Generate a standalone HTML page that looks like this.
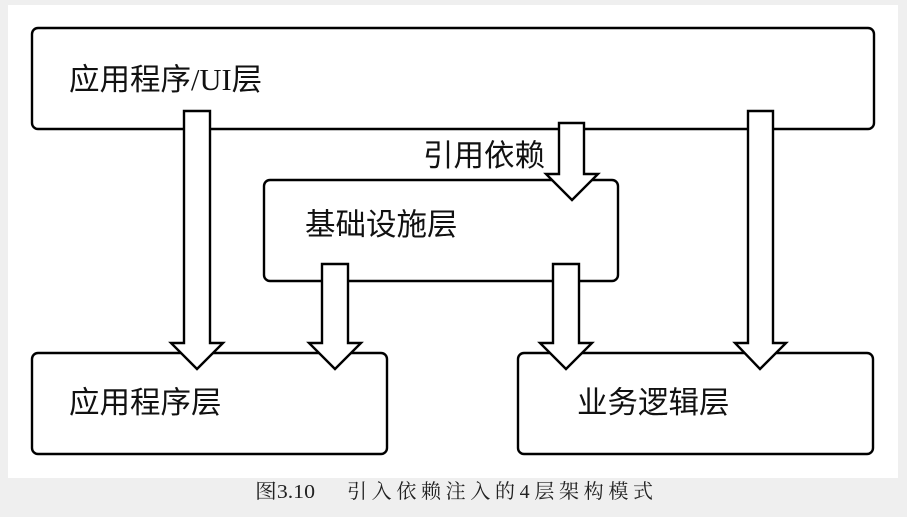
<!DOCTYPE html>
<html>
<head>
<meta charset="utf-8">
<style>
  html, body { margin: 0; padding: 0; background: #efefef; }
  body { width: 907px; height: 517px; overflow: hidden; }
  svg { display: block; }
  .lbl { font-family: "Liberation Serif", "Noto Sans CJK SC", sans-serif; font-size: 30.5px; fill: #111; }
  .cap { font-family: "Liberation Serif", "Noto Serif CJK SC", "Noto Sans CJK SC", serif; font-size: 20px; fill: #222; }
</style>
</head>
<body>
<svg width="907" height="517" viewBox="0 0 907 517" xmlns="http://www.w3.org/2000/svg">
  <rect x="0" y="0" width="907" height="517" fill="#efefef"/>
  <rect x="8" y="5" width="890" height="473" fill="#ffffff"/>

  <g fill="#ffffff" stroke="#000" stroke-width="2.4">
    <rect x="32" y="28" width="842" height="101" rx="6" ry="6"/>
    <rect x="264" y="180" width="354" height="101" rx="6" ry="6"/>
    <rect x="32" y="353" width="355" height="101" rx="6" ry="6"/>
    <rect x="518" y="353" width="355" height="101" rx="6" ry="6"/>
  </g>

  <g fill="#ffffff" stroke="#000" stroke-width="2.4" stroke-linejoin="miter">
    <polygon points="184,111 210,111 210,343 223,343 197,369 171,343 184,343"/>
    <polygon points="559,123 584,123 584,174 598,174 572,200 546,174 559,174"/>
    <polygon points="322,264 348,264 348,343 361,343 335,369 309,343 322,343"/>
    <polygon points="553,264 579,264 579,343 592,343 566,369 540,343 553,343"/>
    <polygon points="748,111 773,111 773,343 786,343 760,369 735,343 748,343"/>
  </g>

  <text class="lbl" x="69" y="90">应用程序/UI层</text>
  <text class="lbl" x="423" y="166">引用依赖</text>
  <text class="lbl" x="305" y="235">基础设施层</text>
  <text class="lbl" x="69" y="413">应用程序层</text>
  <text class="lbl" x="577" y="413">业务逻辑层</text>

  <text class="cap" x="255" y="498" textLength="60" lengthAdjust="spacingAndGlyphs">图3.10</text>
  <text class="cap" x="347" y="498" textLength="306" lengthAdjust="spacing">引入依赖注入的4层架构模式</text>
</svg>
</body>
</html>
